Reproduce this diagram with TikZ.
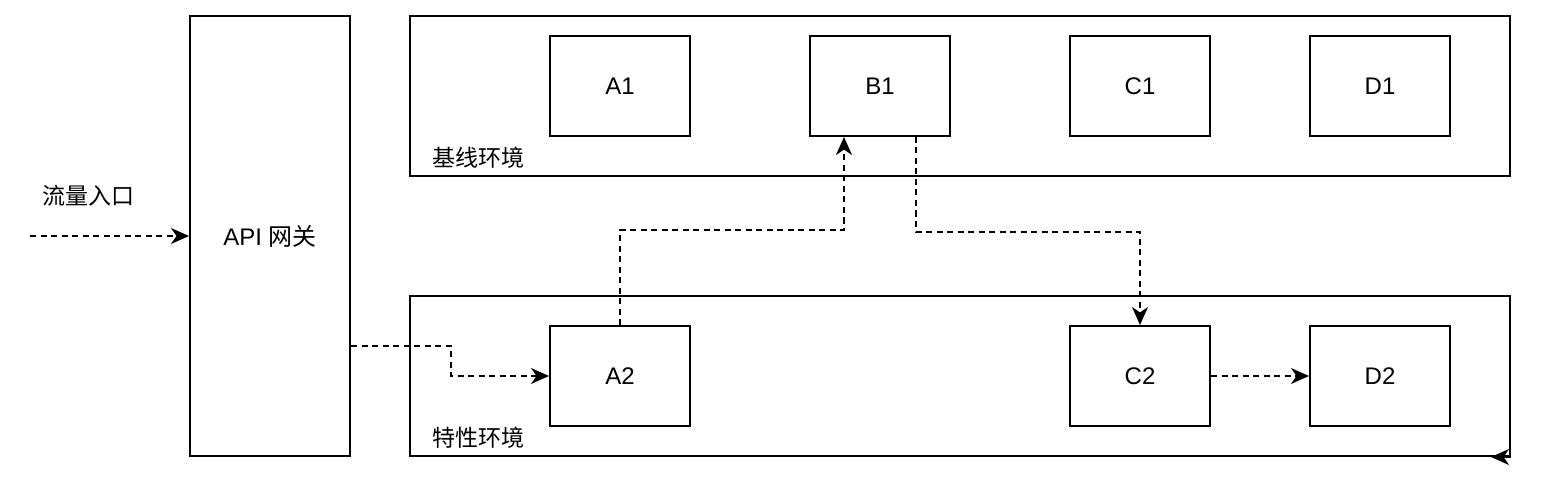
\documentclass[tikz,border=0pt]{standalone}
\usepackage{fontspec}
\setmainfont{Liberation Sans}
\newfontfamily\cjk{Noto Sans CJK SC}
\usetikzlibrary{arrows.meta}
\tikzset{
	svc/.style={draw,line width=2pt,minimum width=140pt,minimum height=100pt,inner sep=0pt,font=\fontsize{24}{28}\selectfont},
	envbox/.style={draw,line width=2pt,minimum width=1100pt,minimum height=160pt,inner sep=0pt},
	envlabel/.style={anchor=west,inner sep=0pt,font=\fontsize{23}{28}\selectfont\cjk},
	flow/.style={->,line width=2pt,dash pattern=on 6pt off 4.5pt}
}
\begin{document}
\begin{tikzpicture}[x=1pt,y=-1pt,>={Stealth[length=18pt,width=16pt,inset=5.5pt]}]
	\useasboundingbox (0,0) rectangle (1544,489);
	% gateway
	\node[draw,line width=2pt,minimum width=160pt,minimum height=440pt,inner sep=0pt,font=\fontsize{24}{28}\selectfont] (api) at (270,236) {API {\cjk 网关}};
	\node[font=\fontsize{23}{28}\selectfont\cjk] (entry) at (88,196) {流量入口};
	\coordinate (src) at (30,236);
	% environments
	\node[envbox] (base) at (960,96) {};
	\node[envbox] (feature) at (960,376) {};
	\node[envlabel] (baselabel) at (432,158) {基线环境};
	\node[envlabel] (featurelabel) at (432,438) {特性环境};
	% services
	\node[svc] (A1) at (620,86) {A1};
	\node[svc] (B1) at (880,86) {B1};
	\node[svc] (C1) at (1140,86) {C1};
	\node[svc] (D1) at (1380,86) {D1};
	\node[svc] (A2) at (620,376) {A2};
	\node[svc] (C2) at (1140,376) {C2};
	\node[svc] (D2) at (1380,376) {D2};
	% flows
	\draw[flow] (src) -- (api.west);
	\draw[flow] ([yshift=-110pt]api.east) -- ++(100,0) |- (A2.west);
	\draw[flow] (A2.north) -- ++(0,-95) -| ([xshift=35pt]B1.south west);
	\draw[flow] ([xshift=-35pt]B1.south east) -- ++(0,95) -| (C2.north);
	\draw[flow] (C2.east) -- (D2.west);
	\coordinate (corner) at (feature.south east);
	\draw[->,line width=2pt] (corner) -- ++(-20,0);
\end{tikzpicture}
\end{document}
